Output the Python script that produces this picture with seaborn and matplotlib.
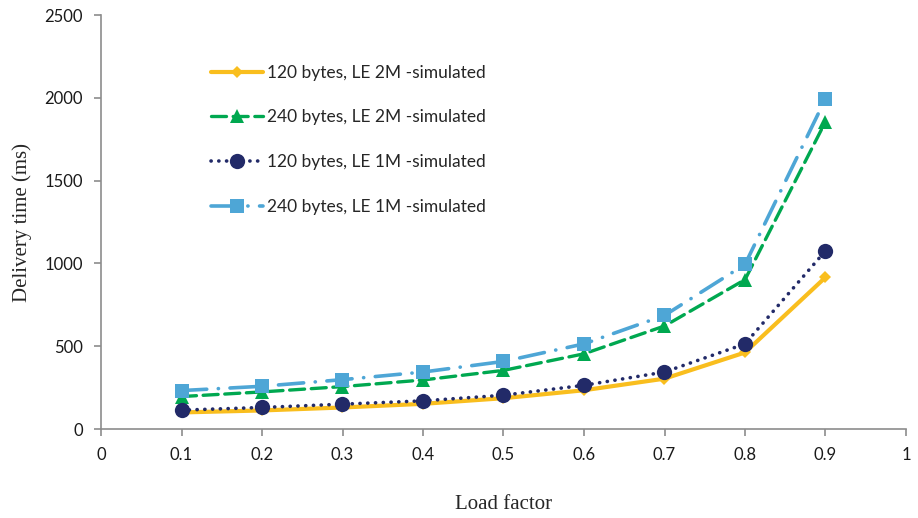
import numpy as np
import pandas as pd
import matplotlib
matplotlib.use("Agg")
import matplotlib.pyplot as plt
import seaborn as sns

sns.set_style("ticks")
plt.rcParams['font.family'] = ['Lato', 'DejaVu Sans']

# ---------------------------------------------------------------
# Data
# ---------------------------------------------------------------
load_factor = [0.1, 0.2, 0.3, 0.4, 0.5, 0.6, 0.7, 0.8, 0.9]
b120_2m = [100, 112, 130, 152, 186, 234, 304, 462, 916]
b240_2m = [196, 224, 256, 296, 354, 454, 622, 902, 1856]
b120_1m = [114, 130, 150, 170, 204, 264, 344, 514, 1076]
b240_1m = [232, 258, 298, 344, 408, 514, 686, 994, 1994]

labels = ["120 bytes, LE 2M -simulated", "240 bytes, LE 2M -simulated",
          "120 bytes, LE 1M -simulated", "240 bytes, LE 1M -simulated"]

styles = [
    dict(color="#F9BE1E", marker="D", markersize=6.5, lw=3.0, linestyle="-"),
    dict(color="#00A850", marker="^", markersize=10.5, lw=2.4, linestyle=(0, (4.5, 2.0))),
    dict(color="#222A68", marker="o", markersize=11, lw=2.6, linestyle=(0, (0.05, 2.1))),
    dict(color="#4EA6D6", marker="s", markersize=10.5, lw=2.6, linestyle=(0, (7, 3.2, 0.05, 3.2))),
]

fig = plt.figure(figsize=(9.18, 5.18), dpi=100)
ax = fig.add_axes([101/918, 1 - 429/518, 805/918, 414/518])

for vals, lab, st in zip([b120_2m, b240_2m, b120_1m, b240_1m], labels, styles):
    sns.lineplot(x=load_factor, y=vals, ax=ax, label=lab,
                 color=st["color"], marker=st["marker"], markersize=st["markersize"],
                 markeredgewidth=0, lw=st["lw"], linestyle=st["linestyle"],
                 dash_capstyle="round", solid_capstyle="round")

ax.set_xlim(0, 1)
ax.set_ylim(0, 2500)
ax.set_xticks(np.arange(0, 1.01, 0.1))
ax.set_xticklabels(["0", "0.1", "0.2", "0.3", "0.4", "0.5", "0.6", "0.7", "0.8", "0.9", "1"])
ax.set_yticks(range(0, 2501, 500))

sns.despine(ax=ax)
for s in ["left", "bottom"]:
    ax.spines[s].set_color("#8C8C8C")
    ax.spines[s].set_linewidth(1.2)
ax.tick_params(axis="both", colors="#8C8C8C", length=5, width=1.2,
               labelcolor="#1A1A1A", labelsize=12, pad=8)

ax.set_xlabel("Load factor", family="Liberation Serif", fontsize=15, labelpad=23)
ax.set_ylabel("Delivery time (ms)", family="Liberation Serif", fontsize=15, labelpad=9)

ax.legend(loc="upper left", bbox_to_anchor=(0.128, 0.897), frameon=False,
          fontsize=12.5, handlelength=3.0, handletextpad=0.2, labelspacing=1.66,
          borderaxespad=0)

plt.savefig("out.png", dpi=100)
plt.close()
